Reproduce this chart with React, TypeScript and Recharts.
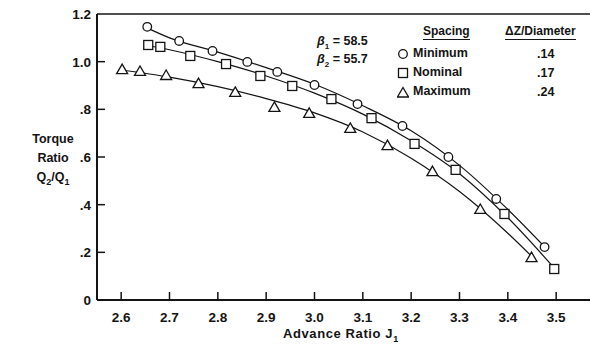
import { ComposedChart, Line, Scatter, XAxis, YAxis, ReferenceLine } from "recharts";

// advance ratio ticks and torque ratio ticks
const J_TICKS = [2.6, 2.7, 2.8, 2.9, 3.0, 3.1, 3.2, 3.3, 3.4, 3.5];
const Q_TICKS = [0, 0.2, 0.4, 0.6, 0.8, 1.0, 1.2];

// measured points, minimum spacing (circles)
const minJ = [2.654, 2.72, 2.789, 2.861, 2.923, 3.0, 3.089, 3.182, 3.277, 3.376, 3.476];
const minQ = [1.146, 1.087, 1.045, 0.999, 0.957, 0.902, 0.822, 0.73, 0.6, 0.424, 0.222];

// measured points, nominal spacing (squares)
const nomJ = [2.656, 2.681, 2.743, 2.817, 2.888, 2.954, 3.035, 3.118, 3.207, 3.292, 3.393, 3.496];
const nomQ = [1.07, 1.062, 1.024, 0.99, 0.94, 0.898, 0.843, 0.763, 0.655, 0.546, 0.361, 0.13];

// measured points, maximum spacing (triangles)
const maxJ = [2.602, 2.639, 2.693, 2.76, 2.836, 2.917, 2.989, 3.074, 3.151, 3.244, 3.343, 3.449];
const maxQ = [0.969, 0.961, 0.944, 0.91, 0.873, 0.81, 0.785, 0.722, 0.65, 0.541, 0.382, 0.18];

// faired curves
const minFitJ = [2.65, 2.7, 2.8, 2.9, 3.0, 3.1, 3.2, 3.3, 3.4, 3.48];
const minFitQ = [1.145, 1.1, 1.04, 0.975, 0.905, 0.815, 0.71, 0.565, 0.38, 0.215];
const nomFitJ = [2.65, 2.7, 2.8, 2.9, 3.0, 3.1, 3.2, 3.3, 3.4, 3.5];
const nomFitQ = [1.07, 1.05, 1.0, 0.94, 0.868, 0.78, 0.668, 0.53, 0.345, 0.125];
const maxFitJ = [2.6, 2.7, 2.8, 2.9, 3.0, 3.1, 3.2, 3.3, 3.4, 3.45];
const maxFitQ = [0.965, 0.935, 0.895, 0.845, 0.785, 0.705, 0.595, 0.455, 0.28, 0.182];

const zip = (xs: number[], ys: number[]) => xs.map((x, i) => ({ x, y: ys[i] }));

const INK = "#141414";
const FONT = "'Liberation Sans', Arial, Helvetica, sans-serif";
const TICK_GAP = 6;
const X_TICK_GAP = 17;

function QTick({ x, y, payload }: any) {
  const v: number = payload.value;
  const label = v === 0 ? "0" : v >= 1 ? v.toFixed(1) : v.toFixed(1).replace(/^0/, "");
  const ax = x + TICK_GAP;
  return (
    <g>
      {v > 0 && v < 1.2 && <line x1={ax} x2={ax + 8} y1={y} y2={y} stroke={INK} strokeWidth={1.5} />}
      <text x={x} y={y} dy="0.36em" textAnchor="end" fontFamily={FONT} fontWeight="bold" fontSize={13.5} fill={INK}>
        {label}
      </text>
    </g>
  );
}

function JTick({ x, y, payload }: any) {
  const ay = y - X_TICK_GAP;
  return (
    <g>
      <line x1={x} x2={x} y1={ay} y2={ay - 8} stroke={INK} strokeWidth={1.5} />
      <text x={x} y={y} dy="0.36em" textAnchor="middle" fontFamily={FONT} fontWeight="bold" fontSize={13.5} fill={INK}>
        {payload.value.toFixed(1)}
      </text>
    </g>
  );
}

const Circle = ({ cx, cy }: any) => <circle cx={cx} cy={cy} r={4.3} fill="#fff" stroke={INK} strokeWidth={1.3} />;
const Square = ({ cx, cy }: any) => (
  <rect x={cx - 4.5} y={cy - 4.5} width={9} height={9} fill="#fff" stroke={INK} strokeWidth={1.3} />
);
const Triangle = ({ cx, cy }: any) => (
  <path d={`M${cx},${cy - 5} L${cx + 5.5},${cy + 4.5} L${cx - 5.5},${cy + 4.5} Z`} fill="#fff" stroke={INK} strokeWidth={1.3} />
);

const abs = (left: number, top: number, extra: any = {}) => ({
  position: "absolute" as const,
  left,
  top,
  whiteSpace: "nowrap" as const,
  ...extra,
});

const txt = { fontFamily: FONT, fontWeight: "bold", color: INK, lineHeight: 1 };

function Symbol({ kind }: { kind: string }) {
  return (
    <svg width={12} height={12} style={{ display: "inline-block", verticalAlign: "middle", marginRight: 4 }}>
      {kind === "c" && <Circle cx={6} cy={6} />}
      {kind === "s" && <Square cx={6} cy={6} />}
      {kind === "t" && <Triangle cx={6} cy={6.5} />}
    </svg>
  );
}

const legendRows = [
  { kind: "c", name: "Minimum", dz: ".14" },
  { kind: "s", name: "Nominal", dz: ".17" },
  { kind: "t", name: "Maximum", dz: ".24" },
];

export default function App() {
  return (
    <div style={{ position: "absolute", left: 0, top: 0, width: 591, height: 350, background: "#fff" }}>
      <ComposedChart width={591} height={350} margin={{ top: 14, right: 1, left: 0, bottom: 20 }}>
        <XAxis
          type="number"
          dataKey="x"
          domain={[2.55, 3.57]}
          ticks={J_TICKS}
          allowDataOverflow
          height={30}
          tickSize={0}
          tickMargin={X_TICK_GAP}
          tickLine={false}
          tick={<JTick />}
          axisLine={{ stroke: INK, strokeWidth: 2 }}
        />
        <YAxis
          type="number"
          dataKey="y"
          domain={[0, 1.2]}
          ticks={Q_TICKS}
          width={97}
          tickSize={0}
          tickMargin={TICK_GAP}
          tickLine={false}
          tick={<QTick />}
          axisLine={{ stroke: INK, strokeWidth: 2 }}
        />
        <ReferenceLine y={1.2} stroke={INK} strokeWidth={1.5} />
        <Line data={zip(minFitJ, minFitQ)} dataKey="y" type="monotone" stroke={INK} strokeWidth={1.2} dot={false} isAnimationActive={false} />
        <Line data={zip(nomFitJ, nomFitQ)} dataKey="y" type="monotone" stroke={INK} strokeWidth={1.2} dot={false} isAnimationActive={false} />
        <Line data={zip(maxFitJ, maxFitQ)} dataKey="y" type="monotone" stroke={INK} strokeWidth={1.2} dot={false} isAnimationActive={false} />
        <Scatter data={zip(minJ, minQ)} dataKey="y" shape={<Circle />} isAnimationActive={false} />
        <Scatter data={zip(nomJ, nomQ)} dataKey="y" shape={<Square />} isAnimationActive={false} />
        <Scatter data={zip(maxJ, maxQ)} dataKey="y" shape={<Triangle />} isAnimationActive={false} />
      </ComposedChart>

      {/* axis titles */}
      <div style={{ ...abs(13, 130, { width: 80, textAlign: "center", fontSize: 12.5 }), ...txt, lineHeight: "19px" }}>
        Torque
        <br />
        Ratio
        <br />
        Q<sub style={{ fontSize: 9 }}>2</sub>/Q<sub style={{ fontSize: 9 }}>1</sub>
      </div>
      <div style={{ ...abs(283, 327, { fontSize: 13, letterSpacing: 0.6 }), ...txt }}>
        Advance Ratio J<sub style={{ fontSize: 9 }}>1</sub>
      </div>

      {/* blade angles */}
      <div style={{ ...abs(317, 35, { fontSize: 12.5 }), ...txt }}>
        <i>β</i><sub style={{ fontSize: 8 }}>1</sub> = 58.5
      </div>
      <div style={{ ...abs(317, 53, { fontSize: 12.5 }), ...txt }}>
        <i>β</i><sub style={{ fontSize: 8 }}>2</sub> = 55.7
      </div>

      {/* legend table */}
      <div style={{ ...abs(423, 25, { fontSize: 12, borderBottom: `1.5px solid ${INK}`, paddingBottom: 2 }), ...txt }}>
        Spacing
      </div>
      <div style={{ ...abs(505, 25, { fontSize: 12, borderBottom: `1.5px solid ${INK}`, paddingBottom: 2 }), ...txt }}>
        ΔZ/Diameter
      </div>
      {legendRows.map((r, i) => (
        <div key={r.name}>
          <div style={{ ...abs(397, 47 + i * 19, { fontSize: 12.5 }), ...txt }}>
            <Symbol kind={r.kind} />
            <span style={{ verticalAlign: "middle" }}>{r.name}</span>
          </div>
          <div style={{ ...abs(537, 48 + i * 19, { fontSize: 12.5 }), ...txt }}>{r.dz}</div>
        </div>
      ))}
    </div>
  );
}
